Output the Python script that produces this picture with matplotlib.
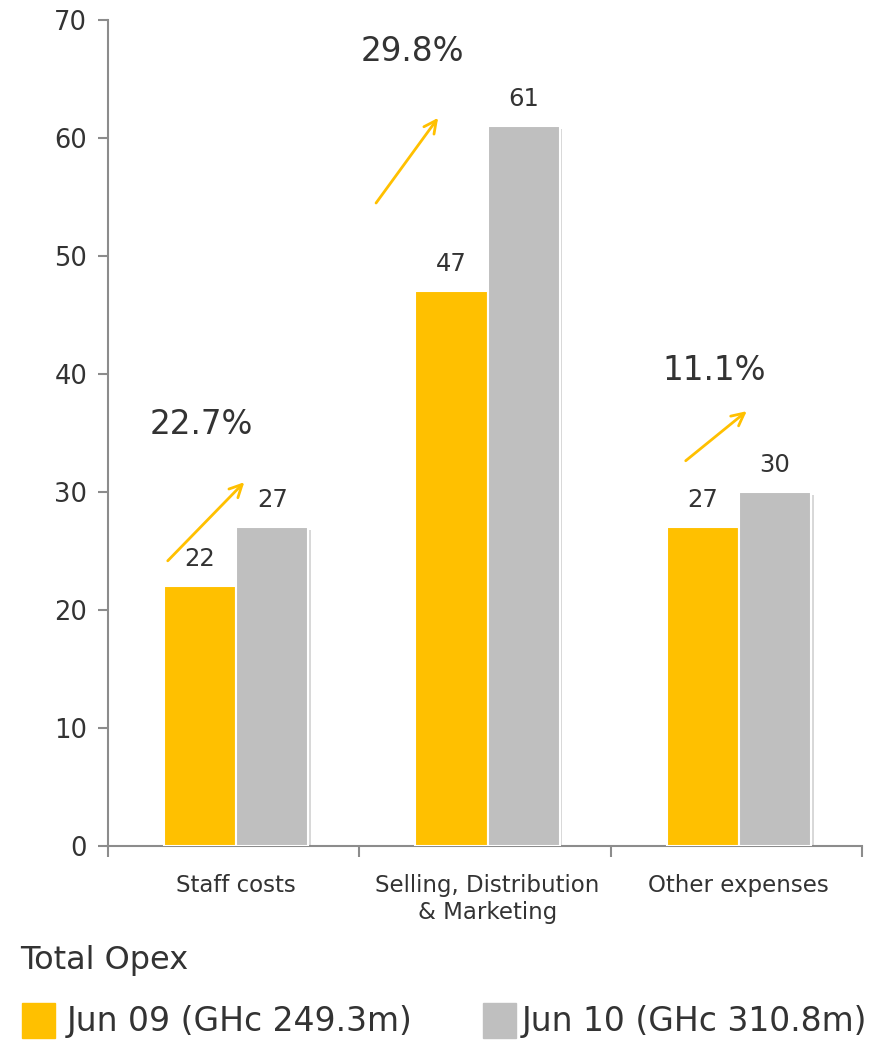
import matplotlib
matplotlib.use("Agg")
import matplotlib.pyplot as plt
import matplotlib.patheffects as pe
from matplotlib.patches import Rectangle
import numpy as np

# Operating expense breakdown (GHc m)
categories = ["Staff costs", "Selling, Distribution\n& Marketing", "Other expenses"]
jun09 = [22, 47, 27]
jun10 = [27, 61, 30]
growth = ["22.7%", "29.8%", "11.1%"]
series_labels = ["Jun 09 (GHc 249.3m)", "Jun 10 (GHc 310.8m)"]
chart_title = "Total Opex"

ORANGE = "#FFC000"
GREY = "#BFBFBF"
TEXT = "#333333"
SPINE = "#8C8C8C"

# arrow placement per category: (dx start, dy start, dx end, dy end) relative to category / orange bar
arrow_geom = [(-0.27, 2.0, 0.05, 9.0), (-0.44, 7.3, -0.18, 14.9), (-0.21, 5.5, 0.05, 10.0)]
pct_pos = [(-0.13, 35.7), (0.71, 67.3), (1.91, 40.3)]

fig = plt.figure(figsize=(8.81, 10.40), dpi=100)
ax = fig.add_axes([108 / 881, 1 - 846 / 1040, (862 - 108) / 881, (846 - 20) / 1040])

x = np.arange(len(categories)) + 0.01
w = 0.287
shadow = [pe.SimplePatchShadow(offset=(2, -2), shadow_rgbFace="#808080", alpha=0.3), pe.Normal()]
b1 = ax.bar(x - w / 2, jun09, w, color=ORANGE, edgecolor="white", linewidth=1.5, zorder=3)
b2 = ax.bar(x + w / 2, jun10, w, color=GREY, edgecolor="white", linewidth=1.5, zorder=3)
for b in list(b1) + list(b2):
    b.set_path_effects(shadow)

for xi, v in zip(x - w / 2, jun09):
    ax.annotate(str(v), (xi, v), xytext=(0, 11), textcoords="offset points",
                ha="center", va="bottom", fontsize=17.5, color=TEXT)
for xi, v in zip(x + w / 2, jun10):
    ax.annotate(str(v), (xi, v), xytext=(0, 11), textcoords="offset points",
                ha="center", va="bottom", fontsize=17.5, color=TEXT)

for i, (g, (dx0, dy0, dx1, dy1), (px, py)) in enumerate(zip(growth, arrow_geom, pct_pos)):
    ax.annotate("", xy=(i + dx1, jun09[i] + dy1), xytext=(i + dx0, jun09[i] + dy0),
                arrowprops=dict(arrowstyle="->,head_length=0.9,head_width=0.45",
                                color=ORANGE, lw=2), zorder=4)
    ax.text(px, py, g, ha="center", va="center", fontsize=23.5, color=TEXT)

ax.set_xlim(-0.5, 2.5)
ax.set_ylim(0, 70)
ax.set_yticks(np.arange(0, 71, 10))
ax.set_xticks([-0.5, 0.5, 1.5, 2.5])
ax.set_xticklabels([])
ax.set_xticks(x, minor=True)
ax.set_xticklabels(categories, minor=True, fontsize=16.5, color=TEXT, linespacing=1.25)
ax.tick_params(axis="x", which="minor", length=0, pad=20)
ax.tick_params(axis="x", which="major", length=8, color=SPINE, width=1.5)
ax.tick_params(axis="y", length=7, color=SPINE, width=1.5, labelsize=18.5, labelcolor=TEXT, pad=8)
for s in ["top", "right"]:
    ax.spines[s].set_visible(False)
for s in ["left", "bottom"]:
    ax.spines[s].set_color(SPINE)
    ax.spines[s].set_linewidth(1.5)

fig.text(20 / 881, 1 - 960 / 1040, chart_title, fontsize=23, color=TEXT,
         va="center", ha="left")

legend_items = [(22, 67, ORANGE, series_labels[0]), (483, 522, GREY, series_labels[1])]
for px, tx, col, lab in legend_items:
    fig.add_artist(Rectangle((px / 881, 1 - 1038 / 1040), 33 / 881, 35 / 1040,
                             transform=fig.transFigure, color=col))
    fig.text(tx / 881, 1 - 1022 / 1040, lab, fontsize=23.8, color=TEXT,
             va="center", ha="left")

fig.savefig("out.png", dpi=100)
